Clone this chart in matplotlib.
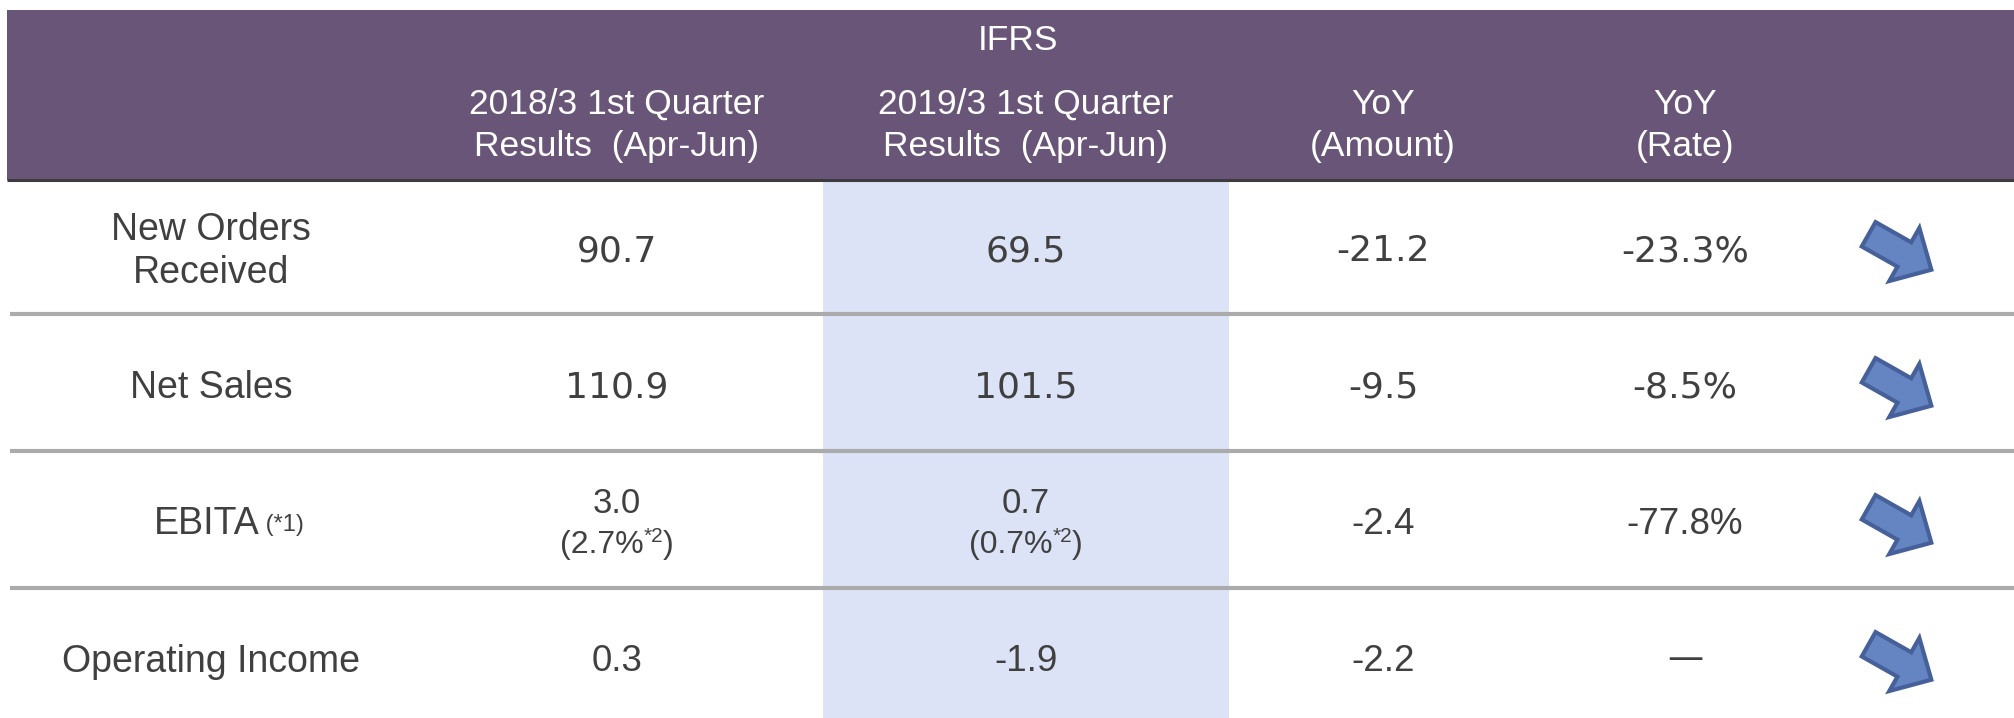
import matplotlib
matplotlib.use("Agg")
import matplotlib.pyplot as plt
from matplotlib.patches import Rectangle, Polygon
import numpy as np

# ---------------- data ----------------
header_title = "IFRS"
col_headers = [
    ["2018/3 1st Quarter", "Results  (Apr-Jun)"],
    ["2019/3 1st Quarter", "Results  (Apr-Jun)"],
    ["YoY", "(Amount)"],
    ["YoY", "(Rate)"],
]
row_labels = [["New Orders", "Received"], ["Net Sales"], ["EBITA"], ["Operating Income"]]
ebita_note = "(*1)"
prev_results = [90.7, 110.9, 3.0, 0.3]
curr_results = [69.5, 101.5, 0.7, -1.9]
yoy_amount = [-21.2, -9.5, -2.4, -2.2]
yoy_rate = [-23.3, -8.5, -77.8, None]
ebita_margin_prev = 2.7
ebita_margin_curr = 0.7
margin_note = "*2"
trend = ["down", "down", "down", "down"]

# ---------------- style ----------------
W, H = 2014, 718
PURPLE = "#695578"
HILITE = "#dce3f6"
TEXT = "#404040"
SEP = "#ababab"
HEADLINE = "#3c3c3c"
ARROW_FACE = "#6585c2"
ARROW_EDGE = "#46609a"

fig = plt.figure(figsize=(W / 100, H / 100), dpi=100)
ax = fig.add_axes([0, 0, 1, 1])
ax.set_xlim(0, W)
ax.set_ylim(H, 0)
ax.axis("off")

col_x = [617, 1026, 1383, 1685]
label_x = 211
arrow_x = 1900
row_top = [180, 314, 451, 588]
row_bot = [314, 451, 588, H]
row_cy = [248, 384, 521, 658]
value_fonts = ["DejaVu Sans", "DejaVu Sans", "Liberation Sans", "Liberation Sans"]
value_sizes = [26, 26, 26.5, 26.5]

PX = 100 / 72.0

# background pieces
ax.add_patch(Rectangle((7, 10), W - 7, 170, color=PURPLE, lw=0, zorder=1))
ax.add_patch(Rectangle((823, 180), 1229 - 823, H - 180, color=HILITE, lw=0, zorder=1))
ax.plot([7, W], [180, 180], color=HEADLINE, lw=2.2, solid_capstyle="butt", zorder=3)
for y in row_bot[:-1]:
    ax.plot([10, W], [y, y], color=SEP, lw=3, solid_capstyle="butt", zorder=3)


def put(x, base, s, size, family, color=TEXT):
    return ax.text(x, base, s, ha="center", va="baseline", fontsize=size,
                   family=family, color=color, zorder=5)


def runs(xc, base, parts, color=TEXT):
    texts = []
    for s, size, fam, dy in parts:
        t = ax.text(0, base - dy, s, ha="left", va="baseline", fontsize=size,
                    family=fam, color=color, zorder=5)
        texts.append(t)
    r = fig.canvas.get_renderer()
    widths = [t.get_window_extent(r).width for t in texts]
    x = xc - sum(widths) / 2
    for t, w in zip(texts, widths):
        t.set_x(x)
        x += w


# header
put(1018, 50, header_title, 25.5, "Liberation Sans", "white")
for cx, lines in zip(col_x, col_headers):
    put(cx, 114, lines[0], 25.5, "Liberation Sans", "white")
    put(cx, 156, lines[1], 25.5, "Liberation Sans", "white")

# row labels
for i, lines in enumerate(row_labels):
    if len(lines) == 2:
        put(label_x, 240, lines[0], 27, "Liberation Sans")
        put(label_x, 283, lines[1], 27, "Liberation Sans")
    elif i == 2:
        base = row_cy[i] + 0.36 * 27 * PX
        runs(229, base, [(lines[0], 27, "Liberation Sans", 0),
                         (" " + ebita_note, 17, "Liberation Sans", 4)])
    else:
        put(label_x, row_cy[i] + 0.36 * 27 * PX, lines[0], 27, "Liberation Sans")

# values
for i in range(4):
    fam = value_fonts[i]
    sz = value_sizes[i]
    base = row_cy[i] + 0.36 * sz * PX
    if i == 2:
        put(col_x[0], 513, f"{prev_results[i]:.1f}", 25, fam)
        put(col_x[1], 513, f"{curr_results[i]:.1f}", 25, fam)
        runs(col_x[0], 553, [(f"({ebita_margin_prev:.1f}%", 23, fam, 0),
                             (margin_note, 15, fam, 11), (")", 23, fam, 0)])
        runs(col_x[1], 553, [(f"({ebita_margin_curr:.1f}%", 23, fam, 0),
                             (margin_note, 15, fam, 11), (")", 23, fam, 0)])
    else:
        put(col_x[0], base, f"{prev_results[i]:.1f}", sz, fam)
        put(col_x[1], base, f"{curr_results[i]:.1f}", sz, fam)
    put(col_x[2], base, f"{yoy_amount[i]:.1f}", sz, fam)
    if yoy_rate[i] is None:
        put(col_x[3], row_cy[i] + 0.30 * 26 * PX, "\u2014", 26, "DejaVu Sans")
    else:
        put(col_x[3], base, f"{yoy_rate[i]:.1f}%", sz, fam)

# trend arrows (block arrows pointing down-right)
L, sw, hw, hl = 72, 14, 30.5, 31
local = np.array([
    [-L / 2, -sw], [L / 2 - hl, -sw], [L / 2 - hl, -hw], [L / 2, 0],
    [L / 2 - hl, hw], [L / 2 - hl, sw], [-L / 2, sw]])
for i, tr in enumerate(trend):
    ang = np.deg2rad(29.5 if tr == "down" else -29.5)
    R = np.array([[np.cos(ang), -np.sin(ang)], [np.sin(ang), np.cos(ang)]])
    pts = local @ R.T + np.array([arrow_x, row_cy[i] + 4])
    ax.add_patch(Polygon(pts, closed=True, facecolor=ARROW_FACE,
                         edgecolor=ARROW_EDGE, lw=3, joinstyle="miter", zorder=6))

fig.savefig("out.png", dpi=100)
